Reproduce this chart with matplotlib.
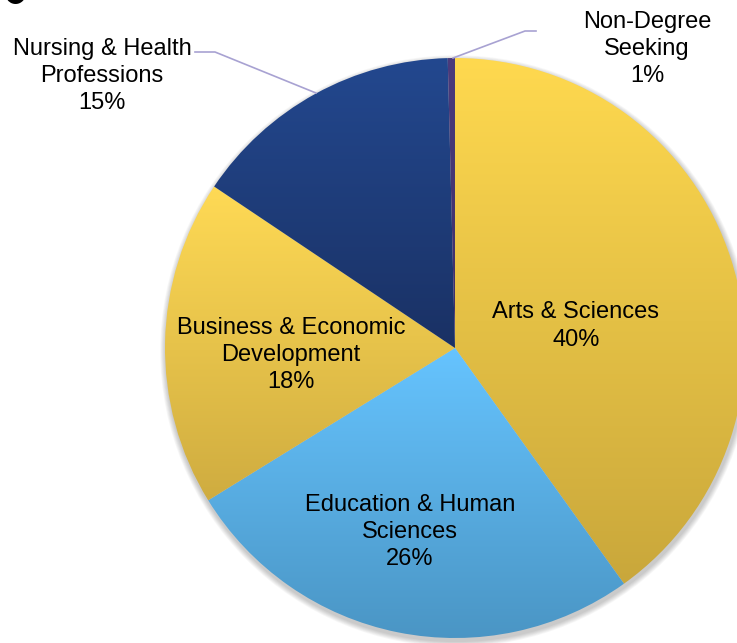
import matplotlib
matplotlib.use('Agg')
import matplotlib.pyplot as plt
import numpy as np
from matplotlib.colors import LinearSegmentedColormap
from matplotlib.patches import Circle

plt.rcParams['font.family'] = ['Liberation Sans', 'DejaVu Sans']

# slices, clockwise from 12 o'clock
colleges = ['Arts & Sciences', 'Education & Human\nSciences', 'Business & Economic\nDevelopment',
            'Nursing & Health\nProfessions', 'Non-Degree\nSeeking']
shares = [40.1, 26.1, 18.2, 15.2, 0.4]
pct_labels = ['40%', '26%', '18%', '15%', '1%']

# gradient colours (top, bottom) per slice
grad_colors = [('#FFD94F', '#C9A73B'),
               ('#66C4FF', '#4A95C4'),
               ('#FFDA55', '#CFAC40'),
               ('#23488F', '#1A3164'),
               ('#4B3B7C', '#3E3068')]

W, H = 737, 643
fig = plt.figure(figsize=(W / 100, H / 100), dpi=100)
ax = fig.add_axes([0, 0, 1, 1])

cx, cy, r = 455, H - 348, 290

# soft shadow round the pie
for k in range(7):
    ax.add_patch(Circle((cx + 1, cy - 3), r + 1 + k * 0.8, facecolor='#000000',
                        alpha=0.03, edgecolor='none', zorder=0))

wedges, _ = ax.pie(shares, startangle=90, counterclock=False, center=(cx, cy), radius=r,
                   wedgeprops=dict(linewidth=0), frame=True)

grad = np.linspace(1, 0, 256).reshape(-1, 1)
for w, (top, bot) in zip(wedges, grad_colors):
    verts = w.get_path().vertices
    x0, x1 = verts[:, 0].min(), verts[:, 0].max()
    y0, y1 = verts[:, 1].min(), verts[:, 1].max()
    cmap = LinearSegmentedColormap.from_list('g', [bot, top])
    w.set_facecolor('none')
    im = ax.imshow(grad, cmap=cmap, extent=(x0 - 1, x1 + 1, y0 - 1, y1 + 1),
                   aspect='auto', origin='upper', zorder=1, interpolation='bilinear')
    im.set_clip_path(w)

ax.set_xlim(0, W)
ax.set_ylim(0, H)
ax.set_aspect('equal')
ax.axis('off')

# label positions (pixel coords from top-left)
label_xy = [(576, 326), (410, 532), (291, 355), (102, 76), (647, 49)]
for name, pct, (lx, ly) in zip(colleges, pct_labels, label_xy):
    ax.text(lx, H - ly, name + '\n' + pct, ha='center', va='center', fontsize=17,
            linespacing=1.3, color='#000000', zorder=5)

# leader lines
lc = '#A8A2D2'
ax.plot([195, 215, 316], [H - 52, H - 52, H - 93], color=lc, lw=1.2, zorder=4)
ax.plot([453, 525, 536], [H - 58, H - 31, H - 31], color=lc, lw=1.2, zorder=4)

# cropped bullet of the slide title above (cut off in the source too)
ax.text(15, H + 6, '\u25cf', ha='center', va='center', fontsize=19, color='#000000',
        family=['DejaVu Sans'], clip_on=False)

fig.savefig('out.png', dpi=100)
